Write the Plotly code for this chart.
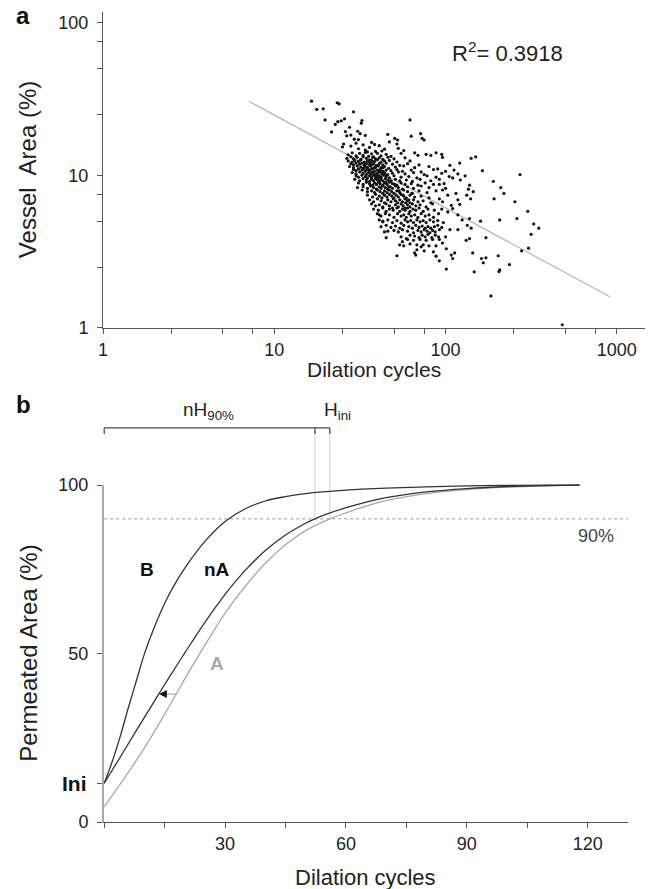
import numpy as np
import plotly.graph_objects as go

# ---- panel a: vessel area vs dilation cycles (log-log) ----
# (dilation cycles, vessel area %)
vessel_points = [
    (16.5, 30.5), (17.7, 27), (19.3, 27.2), (23.3, 29.8), (23.9, 29.3), (19.8, 23), (22.7, 21.5),
    (23.5, 22.4), (24.6, 22.7), (25.7, 23.4), (29, 26), (32.5, 22.8), (32.2, 21.9), (21.6, 19.2),
    (26, 19.3), (27.5, 20.6), (30.7, 19.4), (31.7, 18.7), (26.5, 18.1), (28, 18.3), (29.3, 17.2),
    (31, 17.1), (34, 18.2), (25, 15.3), (25.4, 16), (46, 18.5), (62, 23), (50.5, 17.4), (52.5, 17),
    (52, 16), (53, 15), (63, 18), (71.5, 18.7), (73, 17.4), (75, 17), (66, 14), (69, 13.5), (77, 13.7),
    (82, 13.5), (88, 14), (95, 13.7), (96, 13.1), (106, 11.6), (121, 12), (141, 12.9), (150, 13.2),
    (164, 10.7), (272, 10.1),
    (28, 15.5), (30, 16.2), (31, 14.9), (33, 15.8), (34, 14.6), (36, 15.2), (37, 16.4), (39, 14.3),
    (41, 15.6), (44, 14.8), (47, 16.5), (57, 14.5), (35, 14.2), (38.5, 15.9), (42.5, 14.4),
    (27, 13.6), (28.5, 14.0), (30, 13.4), (31.5, 13.9), (33, 13.5), (34, 14.1), (35.5, 13.3), (37, 13.8),
    (38, 13.2), (40, 13.9), (42, 13.4), (45, 13.7), (48, 13.3), (55, 13.9),
    (26.5, 12.9), (28, 13.2), (29, 12.8), (30.5, 13.1), (32, 12.7), (33, 13.2), (34.5, 12.9), (36, 12.6),
    (37.5, 13.1), (39, 12.8), (41, 13.0), (43, 12.7), (46, 13.1), (50, 12.8), (58, 13.0),
    (27, 12.4), (28.5, 12.2), (29.5, 12.5), (31, 12.3), (32, 12.6), (33.5, 12.2), (35, 12.4), (36, 12.1),
    (37, 12.5), (38.5, 12.3), (40, 12.6), (42, 12.2), (44, 12.4), (47, 12.5), (52, 12.2), (62, 12.4),
    (28, 11.9), (29, 11.7), (30, 12.0), (31.5, 11.8), (32.5, 12.0), (33.5, 11.6), (34.5, 11.9), (36, 11.7),
    (37, 12.0), (38, 11.8), (39.5, 11.6), (41, 11.9), (43, 11.7), (45, 12.0), (49, 11.8), (54, 11.6),
    (60, 11.9), (70, 11.7),
    (27.5, 11.4), (29, 11.2), (30.5, 11.5), (32, 11.3), (33, 11.1), (34, 11.4), (35, 11.2), (36.5, 11.5),
    (38, 11.1), (39, 11.3), (40.5, 11.5), (42, 11.2), (44, 11.4), (46.5, 11.1), (51, 11.3), (57, 11.5),
    (66, 11.2), (80, 11.4), (90, 11.0),
    (29, 10.9), (30, 10.7), (31, 11.0), (32.5, 10.8), (34, 10.6), (35, 10.9), (36, 10.7), (37, 11.0),
    (38.5, 10.6), (40, 10.8), (41.5, 10.9), (43, 10.6), (45, 10.8), (48, 10.7), (52, 10.9), (56, 10.6),
    (63, 10.8), (72, 10.5), (85, 10.9), (100, 10.6), (112, 10.8),
    (28.5, 10.4), (30, 10.2), (31.5, 10.5), (33, 10.3), (34.5, 10.1), (35.5, 10.4), (36.5, 10.2),
    (37.5, 10.5), (39, 10.1), (40, 10.3), (41, 10.5), (42.5, 10.2), (44, 10.4), (46, 10.1), (49, 10.3),
    (53, 10.5), (58, 10.2), (65, 10.4), (75, 10.1), (95, 10.3), (118, 10.2),
    (30, 9.9), (31, 9.7), (32.5, 10.0), (34, 9.8), (35, 9.6), (36, 9.9), (37, 9.7), (38, 10.0), (39, 9.8),
    (40, 9.6), (41, 9.9), (42, 9.7), (43.5, 10.0), (45, 9.8), (47, 9.6), (50, 9.9), (55, 9.7), (61, 9.8),
    (68, 9.6), (78, 9.9), (88, 9.7), (105, 9.8), (130, 9.9),
    (29.5, 9.4), (31.5, 9.2), (33, 9.5), (34.5, 9.3), (36, 9.1), (37, 9.4), (38, 9.2), (39, 9.5), (40, 9.3),
    (41, 9.1), (42, 9.4), (43, 9.2), (44.5, 9.5), (46, 9.3), (48, 9.1), (51, 9.4), (54, 9.2), (59, 9.3),
    (64, 9.1), (71, 9.4), (82, 9.2), (92, 9.4), (110, 9.6), (122, 9.3),
    (31, 8.9), (33, 8.7), (34.5, 9.0), (36, 8.8), (37.5, 8.6), (38.5, 8.9), (39.5, 8.7), (40.5, 9.0),
    (41.5, 8.8), (43, 8.6), (44, 8.9), (45.5, 8.7), (47, 9.0), (49, 8.8), (52, 8.6), (55, 8.9), (58, 8.7),
    (63, 8.8), (69, 8.6), (76, 8.9), (85, 8.7), (98, 8.8), (92, 8.7), (190, 9.1),
    (30.6, 8.3), (33, 8.4), (35, 8.2), (36.5, 8.5), (38, 8.3), (39.5, 8.1), (41, 8.4), (42, 8.2), (43, 8.5),
    (44.5, 8.3), (46, 8.1), (47.5, 8.4), (49, 8.2), (51, 8.5), (53, 8.3), (56, 8.1), (60, 8.4), (65, 8.2),
    (72, 8.5), (80, 8.3), (100, 8.2), (138, 8.6), (210, 8.3),
    (32.6, 8.0), (35, 7.8), (37, 7.9), (38.5, 7.7), (40, 8.0), (41.5, 7.8), (43, 7.6), (44, 7.9),
    (45.5, 7.7), (47, 8.0), (48.5, 7.8), (50, 7.6), (52, 7.9), (54, 7.7), (57, 8.0), (60, 7.8), (64, 7.6),
    (70, 7.9), (78, 7.7), (88, 7.9), (96, 8.0), (136, 8.1), (145, 7.8),
    (35, 7.4), (37.5, 7.2), (39, 7.5), (41, 7.3), (42.5, 7.1), (44, 7.4), (45.5, 7.2), (47, 7.5),
    (48.5, 7.3), (50, 7.1), (51.5, 7.4), (53, 7.2), (55, 7.5), (57, 7.3), (59, 7.1), (62, 7.4), (66, 7.2),
    (72, 7.3), (80, 7.1), (103, 7.4), (115, 7.6), (133, 7.4), (219, 7.6),
    (36, 6.9), (38, 6.7), (40, 7.0), (42, 6.8), (44, 6.6), (46, 6.9), (48, 6.7), (49.5, 7.0), (51, 6.8),
    (52.5, 6.6), (54, 6.9), (56, 6.7), (58, 7.0), (60, 6.8), (62, 6.6), (65, 6.9), (69, 6.7), (74, 6.8),
    (82, 6.6), (92, 7.0), (118, 6.9), (140, 7.0), (192, 7.0),
    (37, 6.5), (39, 6.3), (41, 6.4), (43, 6.2), (45, 6.5), (47, 6.3), (49, 6.1), (51, 6.4), (53, 6.2),
    (55, 6.5), (56.5, 6.3), (58, 6.1), (60, 6.4), (62, 6.2), (64, 6.5), (67, 6.3), (71, 6.4), (77, 6.2),
    (84, 6.5), (96, 6.7), (121, 6.45), (254, 6.7), (108, 6.35),
    (38, 6.0), (40.5, 5.9), (43, 6.1), (45, 5.8), (47, 6.0), (49.5, 5.9), (52, 6.1), (54, 5.8), (56, 6.0),
    (58, 5.9), (60, 6.1), (62, 5.8), (64.5, 6.0), (67, 5.9), (70, 6.1), (74, 5.8), (79, 6.0), (86, 5.9),
    (95, 6.0), (110, 6.05), (103, 5.75),
    (40, 5.6), (42, 5.4), (44.5, 5.6), (47, 5.5), (50, 5.3), (52.5, 5.6), (55, 5.4), (57, 5.5), (59, 5.3),
    (61, 5.6), (63, 5.4), (66, 5.5), (69, 5.3), (72, 5.6), (76, 5.4), (80, 5.5), (85, 5.3), (91, 5.6),
    (118, 5.5), (302, 5.8), (41, 5.5),
    (41, 5.1), (43, 4.95), (46, 5.1), (49, 4.9), (52, 5.05), (55, 4.85), (58, 5.1), (60, 4.95),
    (62.5, 5.05), (65, 4.9), (68, 5.1), (71, 4.95), (74, 5.05), (77, 4.9), (81, 5.1), (85, 4.95),
    (90, 5.05), (97, 4.9), (125, 5.1), (138, 5.2), (160, 5.0), (207, 5.1), (261, 5.2), (43, 5.0),
    (42, 4.6), (45, 4.7), (48, 4.55), (51, 4.65), (54, 4.5), (57, 4.7), (61, 4.6), (64, 4.5), (67, 4.7),
    (70, 4.55), (73, 4.65), (76, 4.5), (79, 4.6), (82, 4.5), (86, 4.6), (90, 4.7), (95, 4.55), (134, 4.7),
    (327, 4.8), (44, 4.25),
    (46, 4.3), (50, 4.35), (53, 4.25), (56, 4.4), (60, 4.3), (65, 4.2), (69, 4.35), (72, 4.25), (75, 4.4),
    (78, 4.3), (81, 4.2), (84, 4.35), (87, 4.25), (92, 4.4), (106, 4.4), (118, 4.4), (141, 4.5),
    (350, 4.5), (45, 3.9),
    (55, 3.95), (59, 3.85), (62, 4.05), (66, 4.0), (70, 3.9), (73, 4.05), (76, 3.95), (79, 4.1), (83, 3.9),
    (87, 4.05), (91, 3.95), (100, 3.95), (316, 4.1), (54, 3.5), (56, 3.67),
    (60, 3.8), (65, 3.75), (71, 3.8), (77, 3.75), (84, 3.8), (92, 3.8), (132, 3.75), (138, 3.85), (172, 3.9),
    (57, 3.45), (62, 3.55), (68, 3.5), (72, 3.4), (74, 3.5), (80, 3.45), (88, 3.45), (96, 3.6),
    (66, 3.1), (68, 3.25), (75, 3.2), (85, 3.15), (101, 3.3), (113, 3.1), (144, 3.1), (278, 3.2),
    (305, 3.33),
    (52, 2.97), (67, 3.0), (88, 2.95), (108, 3.0), (203, 2.97),
    (110, 2.85), (162, 2.85), (172, 2.88), (92, 2.75), (166, 2.67), (236, 2.6), (101, 2.43), (207, 2.4),
    (147, 2.33), (205, 2.34), (184, 1.62), (480, 1.05),
    (33.5, 11.0), (35.5, 10.9), (37.8, 10.4), (39.5, 10.0), (40.8, 9.6), (36.8, 11.6), (34.2, 12.0),
    (38.7, 11.2), (41.8, 10.6), (44.7, 9.0), (46.5, 8.4), (48, 9.2), (50.5, 8.7), (53.5, 7.9), (56.5, 7.4),
    (58.5, 6.6), (61, 6.9), (63.5, 7.6), (44.5, 10.1), (43.2, 11.2),
]
cycles_a = [p[0] for p in vessel_points]
area_a = [p[1] for p in vessel_points]

# power-law fit line (end points)
fit_cycles = [7.1, 910]
fit_area = [30.5, 1.6]
r_squared = "0.3918"

a_major = [1, 10, 100, 1000]
a_minor = [2.5, 5, 7.5, 25, 50, 75, 250, 500, 750]
a_y_major = [1, 10, 100]
a_y_minor = [2.5, 5, 7.5, 25, 50, 75]

# ---- panel b: permeated area curves ----
b_x = [0, 2, 4, 6, 8, 10, 12, 14, 16, 18, 20, 25, 30, 35, 40, 45, 50, 60, 70, 80, 90, 100, 118]
b_y = [11.5, 18, 25.5, 34, 42, 50, 56.5, 62.3, 67.3, 71.6, 75.4, 83.3, 89.2, 93, 95.3, 96.6, 97.5,
       98.5, 99.1, 99.5, 99.8, 99.95, 100]
na_x = [0, 4, 8, 12, 14, 16, 20, 25, 30, 35, 40, 45, 50, 52.3, 55, 60, 65, 70, 80, 90, 100, 110, 118]
na_y = [11.5, 19.3, 27.2, 35, 38.9, 42.7, 50.2, 59.3, 67.6, 74.7, 80.6, 85.2, 88.7, 90, 91.3, 93.3,
        95, 96.3, 98, 99, 99.6, 99.9, 100]
a_x = [0, 5, 10, 15, 17.9, 20, 25, 30, 35, 40, 45, 50, 56, 60, 65, 70, 80, 90, 100, 110, 118]
a_y = [4.5, 13, 22, 32, 38, 42.5, 52.5, 62, 70, 76.8, 82.3, 86.5, 90, 91.8, 93.8, 95.4, 97.5, 98.7,
       99.4, 99.8, 100]

ini_level = 11.5
threshold = 90
h90_na = 52.3   # nA reaches 90 %
h90_a = 56      # A reaches 90 %
bracket_y = 117
arrow_y = 38
arrow_from, arrow_to = 17.9, 13.6

FONT = "Arial, Liberation Sans, sans-serif"
INK = "#222"
LINE = "#555"

fig = go.Figure()

fig.add_trace(go.Scatter(x=fit_cycles, y=fit_area, mode="lines",
                         line=dict(color="#b5b5b5", width=1.2), xaxis="x", yaxis="y"))
fig.add_trace(go.Scatter(x=cycles_a, y=area_a, mode="markers",
                         marker=dict(color="#111", size=3.2), xaxis="x", yaxis="y"))

# panel b
fig.add_trace(go.Scatter(x=[0, 130], y=[threshold, threshold], mode="lines",
                         line=dict(color="#999", width=1, dash="dot"), xaxis="x2", yaxis="y2"))
for xv in [h90_na, h90_a]:
    fig.add_trace(go.Scatter(x=[xv, xv], y=[threshold, bracket_y], mode="lines",
                             line=dict(color="#cfcfcf", width=1), xaxis="x2", yaxis="y2"))
fig.add_trace(go.Scatter(x=a_x, y=a_y, mode="lines", line=dict(color="#a8a8a8", width=1.3, shape="spline"),
                         xaxis="x2", yaxis="y2"))
fig.add_trace(go.Scatter(x=na_x, y=na_y, mode="lines", line=dict(color="#333", width=1.3, shape="spline"),
                         xaxis="x2", yaxis="y2"))
fig.add_trace(go.Scatter(x=b_x, y=b_y, mode="lines", line=dict(color="#333", width=1.3, shape="spline"),
                         xaxis="x2", yaxis="y2"))
# bracket above the curves
fig.add_trace(go.Scatter(x=[0, 0, None, 0, h90_a, None, h90_na, h90_na, None, h90_a, h90_a],
                         y=[bracket_y - 1.8, bracket_y, None, bracket_y, bracket_y, None,
                            bracket_y, bracket_y - 1.8, None, bracket_y, bracket_y - 1.8],
                         mode="lines", line=dict(color="#444", width=1.2), xaxis="x2", yaxis="y2"))
# arrow shaft (grey)
fig.add_trace(go.Scatter(x=[arrow_to + 1.2, arrow_from], y=[arrow_y, arrow_y], mode="lines",
                         line=dict(color="#999", width=1), xaxis="x2", yaxis="y2"))

axis_common = dict(showgrid=False, zeroline=False, showline=True, linecolor=LINE, linewidth=1,
                   ticks="outside", ticklen=5, tickcolor=LINE,
                   tickfont=dict(family=FONT, size=18, color=INK))

x_vals = sorted(a_major + a_minor)
y_vals = sorted(a_y_major + a_y_minor)
b_xticks = [0, 15, 30, 45, 60, 75, 90, 105, 120]
b_yticks = [0, ini_level, 50, 100]
b_yrange = [0, 125]

fig.update_layout(
    width=649, height=889,
    margin=dict(l=103, r=4, t=12, b=67),
    plot_bgcolor="white", paper_bgcolor="white",
    showlegend=False,
    font=dict(family=FONT, color=INK),
    xaxis=dict(axis_common, type="log", range=[0, np.log10(1460)], anchor="y", domain=[0, 1],
               tickvals=x_vals, ticktext=[str(v) if v in a_major else "" for v in x_vals]),
    yaxis=dict(axis_common, type="log", range=[0, np.log10(117)], anchor="x", domain=[0.6099, 1],
               tickvals=y_vals, ticktext=[str(v) if v in a_y_major else "" for v in y_vals],
               ticklabelstandoff=5),
    xaxis2=dict(axis_common, range=[-0.3, 130], anchor="y2", domain=[0, 0.9686],
                tickvals=b_xticks, ticktext=[str(v) if v % 30 == 0 and v > 0 else "" for v in b_xticks]),
    yaxis2=dict(axis_common, range=b_yrange, anchor="x2", domain=[0, 0.5198], showline=False,
                tickvals=b_yticks, ticktext=["0", "", "50", "100"], ticklabelstandoff=5),
)

# y axis line of panel b stops at 100 %
fig.add_shape(type="line", xref="x2 domain", yref="y2 domain", x0=0, x1=0,
              y0=0, y1=100 / b_yrange[1], line=dict(color=LINE, width=1))

ann = []
ann.append(dict(text="<b>a</b>", xref="paper", yref="paper", x=-0.164, y=0.996, xanchor="left",
                yanchor="middle", showarrow=False, font=dict(size=24, color="#111")))
ann.append(dict(text="<b>b</b>", xref="paper", yref="paper", x=-0.164, y=0.516, xanchor="left",
                yanchor="middle", showarrow=False, font=dict(size=24, color="#111")))
ann.append(dict(text="Vessel  Area (%)", xref="paper", yref="paper", x=-0.138, y=0.805,
                xanchor="center", yanchor="middle", textangle=-90, showarrow=False,
                font=dict(size=24, color=INK)))
ann.append(dict(text="Dilation cycles", xref="x domain", yref="paper", x=0.5, y=0.6099 - 0.051,
                xanchor="center", yanchor="middle", showarrow=False, font=dict(size=21, color=INK)))
ann.append(dict(text="Permeated Area (%)", xref="paper", yref="y2", x=-0.138, y=50,
                xanchor="center", yanchor="middle", textangle=-90, showarrow=False,
                font=dict(size=24, color=INK)))
ann.append(dict(text="Dilation cycles", xref="x2 domain", yref="paper", x=0.5, y=-0.068,
                xanchor="center", yanchor="middle", showarrow=False, font=dict(size=22, color=INK)))
ann.append(dict(text="R<sup>2</sup>= " + r_squared, xref="x", yref="y", x=np.log10(230),
                y=np.log10(64), xanchor="center", showarrow=False, font=dict(size=22, color=INK)))
ann.append(dict(text="<b>Ini</b>", xref="paper", yref="y2", x=-0.026, y=ini_level, xanchor="right",
                showarrow=False, font=dict(size=21, color="#111")))
ann.append(dict(text="<b>B</b>", xref="x2", yref="y2", x=10.5, y=75, showarrow=False,
                font=dict(size=19, color="#111")))
ann.append(dict(text="<b>nA</b>", xref="x2", yref="y2", x=28, y=75, showarrow=False,
                font=dict(size=19, color="#111")))
ann.append(dict(text="<b>A</b>", xref="x2", yref="y2", x=28, y=47, showarrow=False,
                font=dict(size=19, color="#a8a8a8")))
ann.append(dict(text="90%", xref="x2", yref="y2", x=122, y=85, showarrow=False,
                font=dict(size=18, color="#444")))
ann.append(dict(text="nH<sub>90%</sub>", xref="x2", yref="y2", x=26, y=122, showarrow=False,
                font=dict(size=19, color=INK)))
ann.append(dict(text="H<sub>ini</sub>", xref="x2", yref="y2", x=58, y=122, showarrow=False,
                font=dict(size=19, color=INK)))
ann.append(dict(text="", xref="x2", yref="y2", x=arrow_to, y=arrow_y, axref="x2", ayref="y2",
                ax=arrow_to + 1.6, ay=arrow_y, showarrow=True, arrowhead=2, arrowsize=1.2,
                arrowwidth=1.3, arrowcolor="#111", standoff=0))
fig.update_layout(annotations=ann)

# the page's default body margin would shift the figure by 8 px
fig.write_html("out.html", config={"displayModeBar": False},
               post_script="document.body.style.margin='0';document.body.style.overflow='hidden';")
